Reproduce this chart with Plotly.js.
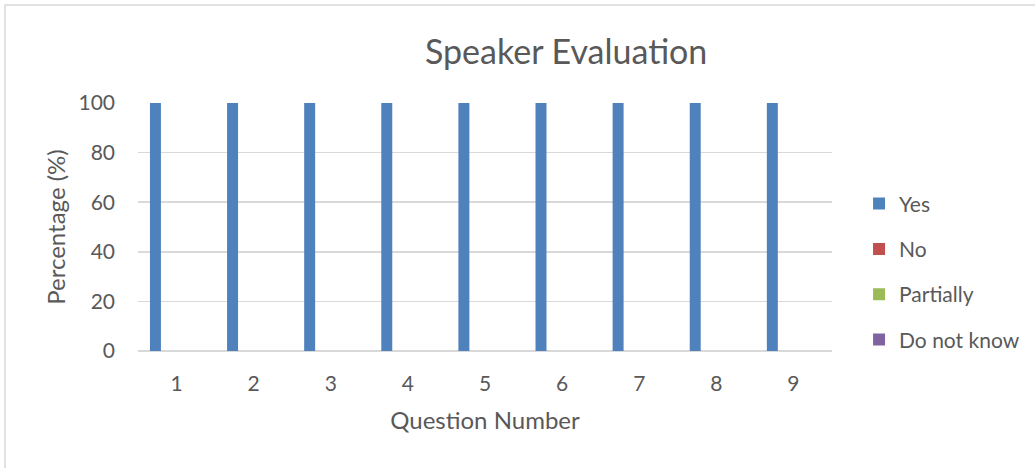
<!DOCTYPE html>
<html>
<head>
<meta charset="utf-8">
<script src="https://cdn.plot.ly/plotly-3.0.1.min.js"></script>
<style>html,body{margin:0;padding:0;background:#fff;}#chart{width:1035px;height:468px;}</style>
</head>
<body>
<div id="chart"></div>
<script>
const categories = ["1","2","3","4","5","6","7","8","9"];
const seriesNames = ["Yes","No","Partially","Do not know"];
const yesValues = [100,100,100,100,100,100,100,100,100];
const noValues = [0,0,0,0,0,0,0,0,0];
const partiallyValues = [0,0,0,0,0,0,0,0,0];
const dontKnowValues = [0,0,0,0,0,0,0,0,0];
const colors = ["#4f81bd","#c0504d","#9bbb59","#8064a2"];
const allValues = [yesValues, noValues, partiallyValues, dontKnowValues];

const font = "Lato, 'Open Sans', sans-serif";
const traces = seriesNames.map((n,i)=>({
  type:"bar", name:n, x:categories, y:allValues[i],
  marker:{color:colors[i]}, legendgroup:n, hoverinfo:"x+y+name"
}));

const layout = {
  width:1035, height:468,
  margin:{l:138, r:203, t:103, b:117},
  paper_bgcolor:"#fff", plot_bgcolor:"#fff",
  font:{family:font, color:"#595959", size:21},
  title:{text:"Speaker Evaluation", font:{size:34, color:"#595959", family:font}, x:0.547, xref:"container", xanchor:"center", y:0.889, yref:"container", yanchor:"middle"},
  barmode:"group", bargap:0.27, bargroupgap:0.22,
  xaxis:{type:"category", showgrid:false, showline:false, zeroline:false, ticks:"", ticklen:0,
    tickfont:{size:21, color:"#595959"}, ticklabelstandoff:18,
    title:{text:"Question Number", font:{size:24, color:"#595959"}, standoff:18}},
  yaxis:{range:[0,100], dtick:20, showgrid:true, gridcolor:"#d9d9d9", gridwidth:1.5, zeroline:true, zerolinecolor:"#d9d9d9", zerolinewidth:1.5,
    showline:false, ticks:"", tickfont:{size:21, color:"#595959"}, ticklabelstandoff:22,
    title:{text:"Percentage (%)", font:{size:24, color:"#595959"}, standoff:6}},
  legend:{xref:"container", x:0.830, xanchor:"left", yref:"container", y:0.608, yanchor:"top", traceorder:"grouped", tracegroupgap:15,
    font:{size:21, color:"#595959"}, itemwidth:30, bgcolor:"rgba(0,0,0,0)"},
  shapes:[{type:"rect", xref:"paper", yref:"paper", x0:-0.1916, x1:2, y0:-1, y1:1.395,
    line:{color:"#d9d9d9", width:1.5}, fillcolor:"rgba(0,0,0,0)", layer:"below"}]
};
Plotly.newPlot("chart", traces, layout, {displayModeBar:false, staticPlot:true});
</script>
</body>
</html>
